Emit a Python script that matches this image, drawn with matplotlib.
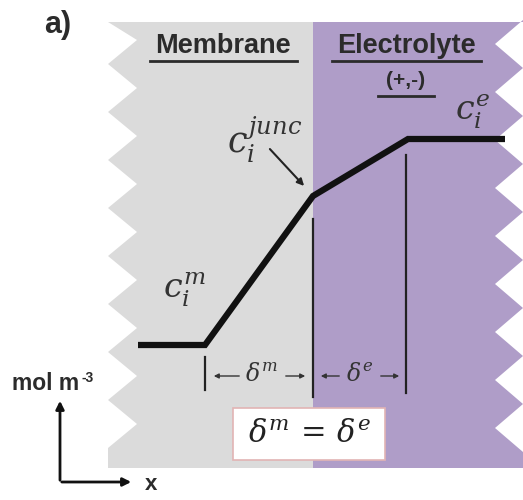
import matplotlib
matplotlib.use("Agg")
import matplotlib.pyplot as plt
from matplotlib.patches import Polygon, Rectangle, FancyArrowPatch

plt.rcParams['mathtext.fontset'] = 'dejavuserif'

# --- schematic data (pixel-like coordinates, y downward) ---
profile_x = [138, 205, 313, 408, 505]
profile_y = [345, 345, 196, 139, 139]
region_labels = ["Membrane", "Electrolyte"]
membrane_span = (108, 313)
electrolyte_span = (313, 523)
top_y, bottom_y = 22, 468
left_tips = [40, 88, 136, 184, 232, 280, 328, 376, 424]
right_tips = [44, 92, 140, 188, 236, 284, 332, 380, 428]
half = 24

GRAY = "#dbdbdb"
PURPLE = "#af9dc8"
TXT = "#2b2b2b"

fig = plt.figure(figsize=(5.23, 5.0), dpi=100)
ax = fig.add_axes([0, 0, 1, 1])
ax.set_xlim(0, 523)
ax.set_ylim(500, 0)
ax.axis("off")

# membrane polygon with zigzag left edge
lx0, lx1 = membrane_span
pts = [(lx1, top_y), (lx0, top_y)]
for t in left_tips:
    pts.append((lx0 + 29, t))
    pts.append((lx0, t + half))
pts.append((lx0, bottom_y))
pts.append((lx1, bottom_y))
ax.add_patch(Polygon(pts, closed=True, facecolor=GRAY, edgecolor="none", zorder=1))

# electrolyte polygon with zigzag right edge
rx0, rx1 = electrolyte_span
pts = [(rx0, top_y), (rx1, top_y)]
for t in right_tips:
    pts.append((rx1, t - half))
    pts.append((rx1 - 28, t))
    pts.append((rx1, t + half))
pts.append((rx1, bottom_y))
pts.append((rx0, bottom_y))
ax.add_patch(Polygon(pts, closed=True, facecolor=PURPLE, edgecolor="none", zorder=1))

# concentration profile
ax.plot(profile_x, profile_y, color="#111111", lw=4.5, solid_joinstyle="miter",
        solid_capstyle="butt", zorder=3)

# thin vertical markers
ax.plot([205, 205], [357, 390], color="#222222", lw=1.6, zorder=3)
ax.plot([313, 313], [219, 397], color="#222222", lw=1.6, zorder=3)
ax.plot([406, 406], [155, 393], color="#222222", lw=1.6, zorder=3)

# headings
hfont = dict(family="Liberation Sans", fontweight="bold", color=TXT)
ax.text(223, 46, region_labels[0], fontsize=19.5, ha="center", va="center", **hfont)
ax.text(406, 46, region_labels[1], fontsize=19.5, ha="center", va="center", **hfont)
ax.text(406, 81, "(+,-)", fontsize=15, ha="center", va="center", **hfont)
ax.plot([150, 297], [60.5, 60.5], color=TXT, lw=2)
ax.plot([332, 481], [60.5, 60.5], color=TXT, lw=2)
ax.plot([378, 434], [95.5, 95.5], color=TXT, lw=2)
ax.text(58, 25, "a)", fontsize=22, ha="center", va="center", **hfont)

# math labels
mcol = "#333333"
ax.text(227, 140, r"$c_i^{junc}$", fontsize=25, ha="left", va="center", color=mcol)
ax.text(455, 112, r"$c_i^{e}$", fontsize=24, ha="left", va="center", color=mcol)
ax.text(163, 290, r"$c_i^{m}$", fontsize=24, ha="left", va="center", color=mcol)
ax.add_patch(FancyArrowPatch((268, 147), (306, 188), arrowstyle="-|>", mutation_scale=10,
                             color="#222222", lw=1.5, zorder=4))

# delta arrows
acol = "#333333"
ax.text(261, 374, r"$\delta^{m}$", fontsize=17, ha="center", va="center", color=acol)
ax.text(360, 374, r"$\delta^{e}$", fontsize=17, ha="center", va="center", color=acol)
for (a, b) in [((242, 376), (211, 376)), ((283, 376), (308, 376)),
               ((342, 376), (318, 376)), ((378, 376), (402, 376))]:
    ax.add_patch(FancyArrowPatch(a, b, arrowstyle="-|>", mutation_scale=7,
                                 color=acol, lw=1.0, zorder=4))

# equality box
ax.add_patch(Rectangle((233, 408), 152, 52, facecolor="white", edgecolor="#e2b4b4",
                       lw=1.2, zorder=4))
ax.text(310, 434, r"$\delta^{m}\,=\,\delta^{e}$", fontsize=22, ha="center", va="center",
        color="#222222", zorder=5)

# axes indicator
ax.add_patch(FancyArrowPatch((60, 483), (60, 398), arrowstyle="-|>", mutation_scale=12,
                             color="#111111", lw=2, zorder=4))
ax.add_patch(FancyArrowPatch((59, 482), (134, 482), arrowstyle="-|>", mutation_scale=12,
                             color="#111111", lw=2, zorder=4))
ax.text(12, 384, "mol m", fontsize=16.5, ha="left", va="center", **hfont)
ax.text(81, 378, "-3", fontsize=10, ha="left", va="center", **hfont)
ax.text(145, 484, "x", fontsize=16, ha="left", va="center", **hfont)

fig.savefig("out.png", dpi=100)
